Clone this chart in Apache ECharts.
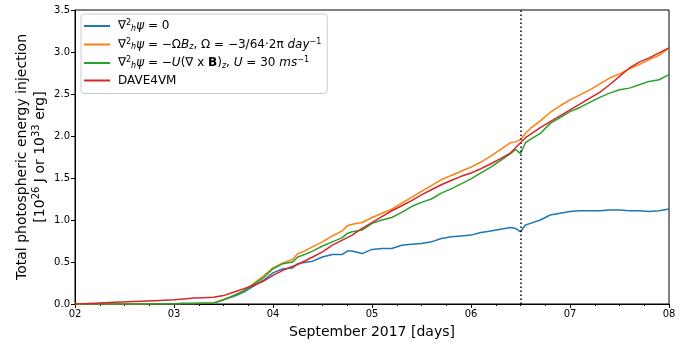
<!DOCTYPE html>
<html lang="en">
<head>
    <meta charset="UTF-8">
    <title>Photospheric energy injection</title>
    <script src="https://cdn.jsdelivr.net/npm/echarts@6/dist/echarts.min.js"></script>
    <style>
        body { margin: 0; background: #fff; }
    </style>
</head>
<body>
    <div id="main" style="width: 698px;height: 347px"></div>
    <script>
        // days of September 2017
        var days = [2.0, 2.2, 2.4, 2.6, 2.8, 3.0, 3.1, 3.2, 3.3, 3.4, 3.5, 3.6, 3.7, 3.8, 3.9, 4.0, 4.1, 4.2, 4.25, 4.3,
            4.4, 4.5, 4.6, 4.7, 4.75, 4.8, 4.9, 5.0, 5.1, 5.2, 5.3, 5.4, 5.5, 5.6, 5.7, 5.8, 5.9, 6.0, 6.1, 6.2,
            6.3, 6.4, 6.45, 6.5, 6.55, 6.6, 6.7, 6.8, 6.9, 7.0, 7.1, 7.2, 7.3, 7.4, 7.5, 7.6, 7.7, 7.8, 7.9, 8.0];

        var psiZero = [0, 0, 0, 0, 0.002, 0.004, 0.005, 0.006, 0.008, 0.01, 0.05, 0.09, 0.14, 0.21, 0.28, 0.37, 0.42, 0.43, 0.48, 0.49,
            0.51, 0.56, 0.59, 0.59, 0.63, 0.63, 0.60, 0.65, 0.66, 0.66, 0.70, 0.71, 0.72, 0.74, 0.78, 0.80, 0.81, 0.82, 0.85, 0.87,
            0.89, 0.91, 0.90, 0.86, 0.94, 0.96, 1.00, 1.06, 1.08, 1.10, 1.11, 1.11, 1.11, 1.12, 1.12, 1.11, 1.11, 1.10, 1.11, 1.13];

        var psiOmega = [0, 0, 0, 0, 0.002, 0.004, 0.005, 0.006, 0.008, 0.01, 0.05, 0.10, 0.16, 0.24, 0.33, 0.43, 0.49, 0.53, 0.60, 0.62,
            0.68, 0.74, 0.81, 0.87, 0.93, 0.95, 0.97, 1.03, 1.08, 1.13, 1.20, 1.27, 1.34, 1.41, 1.48, 1.53, 1.58, 1.63, 1.69, 1.76,
            1.84, 1.92, 1.93, 1.96, 2.03, 2.09, 2.18, 2.28, 2.36, 2.43, 2.49, 2.55, 2.62, 2.69, 2.74, 2.80, 2.85, 2.91, 2.96, 3.05];

        var psiCurl = [0, 0, 0, 0, 0.002, 0.004, 0.005, 0.006, 0.008, 0.01, 0.05, 0.10, 0.15, 0.23, 0.31, 0.42, 0.48, 0.50, 0.56, 0.58,
            0.63, 0.69, 0.74, 0.79, 0.84, 0.86, 0.88, 0.96, 1.00, 1.03, 1.09, 1.16, 1.21, 1.25, 1.32, 1.37, 1.43, 1.49, 1.56, 1.63,
            1.71, 1.79, 1.84, 1.79, 1.92, 1.96, 2.03, 2.15, 2.22, 2.29, 2.34, 2.40, 2.46, 2.51, 2.55, 2.57, 2.61, 2.65, 2.67, 2.73];

        var dave4vm = [0, 0.01, 0.02, 0.03, 0.04, 0.05, 0.06, 0.07, 0.075, 0.08, 0.10, 0.14, 0.18, 0.22, 0.27, 0.34, 0.40, 0.45, 0.47, 0.50,
            0.56, 0.62, 0.70, 0.76, 0.79, 0.82, 0.90, 0.97, 1.04, 1.11, 1.17, 1.23, 1.30, 1.36, 1.42, 1.47, 1.52, 1.56, 1.61, 1.67,
            1.73, 1.80, 1.86, 1.92, 1.98, 2.02, 2.10, 2.17, 2.24, 2.31, 2.38, 2.45, 2.52, 2.61, 2.71, 2.81, 2.88, 2.93, 2.99, 3.05];

        var markDay = 6.5;

        var legendNames = [
            '\u2207{s|2}{b|h}{i|\u03c8} = 0',
            '\u2207{s|2}{b|h}{i|\u03c8} = \u2212\u03a9{i|B}{b|z}, \u03a9 = \u22123/64\u00b72\u03c0 {i|day}{s|\u22121}',
            '\u2207{s|2}{b|h}{i|\u03c8} = \u2212{i|U}(\u2207 x {bf|B}){b|z}, {i|U} = 30 {i|ms}{s|\u22121}',
            'DAVE4VM'
        ];
        var colors = ['#1f77b4', '#ff7f0e', '#2ca02c', '#d62728'];
        var values = [psiZero, psiOmega, psiCurl, dave4vm];

        function pairs(arr) {
            return days.map(function (d, i) { return [d, arr[i]]; });
        }

        var font = 'DejaVu Sans';
        var series = values.map(function (arr, k) {
            var s = {
                name: legendNames[k],
                type: 'line',
                data: pairs(arr),
                symbol: 'none',
                color: colors[k],
                lineStyle: { width: 1.5, color: colors[k] },
                z: 2 + k
            };
            if (k === 3) {
                s.markLine = {
                    silent: true,
                    symbol: 'none',
                    label: { show: false },
                    lineStyle: { color: '#000', type: [1.5, 2.5], width: 1.5 },
                    data: [{ xAxis: markDay }]
                };
            }
            return s;
        });

        var myChart = echarts.init(document.getElementById('main'));
        myChart.setOption({
            animation: false,
            textStyle: { fontFamily: font },
            grid: {
                left: 75, right: 29, top: 10, bottom: 43,
                show: true, borderColor: '#000', borderWidth: 1
            },
            legend: {
                orient: 'vertical',
                left: 81, top: 14,
                padding: [5, 6, 7, 3],
                itemGap: 5,
                itemWidth: 26, itemHeight: 2,
                icon: 'rect',
                backgroundColor: '#fff',
                borderColor: '#ccc',
                borderWidth: 1,
                borderRadius: 3,
                data: legendNames,
                textStyle: {
                    fontFamily: font, fontSize: 12, color: '#000', padding: [0, 0, 0, 3],
                    rich: {
                        s: { fontSize: 8, padding: [0, 0, 6, 0], fontFamily: font },
                        b: { fontSize: 8, padding: [5, 0, 0, 0], fontFamily: font, fontStyle: 'italic' },
                        i: { fontSize: 12, fontStyle: 'italic', fontFamily: font },
                        bf: { fontSize: 12, fontWeight: 'bold', fontFamily: font }
                    }
                }
            },
            xAxis: {
                type: 'value',
                min: 2, max: 8, interval: 1,
                name: 'September 2017 [days]',
                nameLocation: 'middle',
                nameGap: 21,
                nameTextStyle: { fontSize: 14, color: '#000', fontFamily: font },
                axisLine: { lineStyle: { color: '#000' } },
                axisTick: { length: 4, lineStyle: { color: '#000' } },
                minorTick: { show: true, splitNumber: 4, length: 2, lineStyle: { color: '#000' } },
                axisLabel: {
                    color: '#000', fontSize: 10, margin: 5,
                    formatter: function (v) { return '0' + v; }
                },
                splitLine: { show: false }
            },
            yAxis: {
                type: 'value',
                min: 0, max: 3.5, interval: 0.5,
                name: 'Total photospheric energy injection\n[10{s|26} J or 10{s|33} erg]',
                nameLocation: 'middle',
                nameGap: 26,
                nameMoveOverlap: false,
                nameTextStyle: {
                    fontSize: 14, color: '#000', fontFamily: font, lineHeight: 18, align: 'center',
                    rich: {
                        s: { fontSize: 10, padding: [0, 0, 7, 0], fontFamily: font, color: '#000' }
                    }
                },
                axisLine: { lineStyle: { color: '#000' } },
                axisTick: { length: 4, lineStyle: { color: '#000' } },
                axisLabel: {
                    color: '#000', fontSize: 10, margin: 5,
                    formatter: function (v) { return v.toFixed(1); }
                },
                splitLine: { show: false }
            },
            series: series
        });
    </script>
</body>
</html>
